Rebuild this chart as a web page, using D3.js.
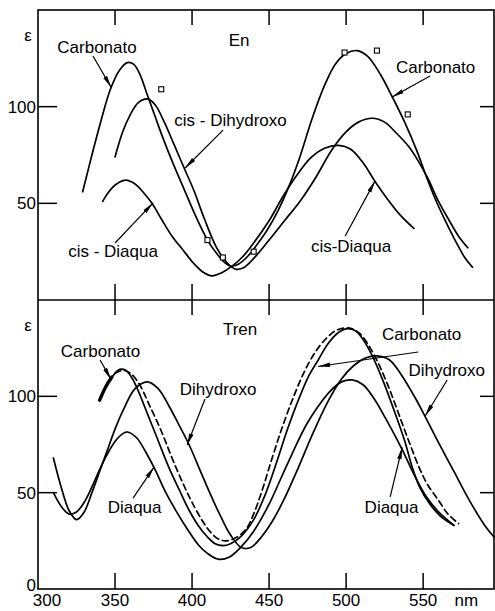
<!DOCTYPE html>
<html><head><meta charset="utf-8">
<script src="https://cdn.jsdelivr.net/npm/d3@7"></script>
<style>
body{margin:0;background:#fff}
text{font-family:"Liberation Sans",Arial,sans-serif;font-size:17px;fill:#000}
</style>
</head><body>
<svg id="c" width="495" height="611"></svg>
<script>
// ---------- data (wavelength nm, epsilon) ----------
const xDomain = [300, 596];
const yDomain = [0, 150];
const xTickValues = [350, 400, 450, 500, 550];
const xTickLabels = ["300", "350", "400", "450", "500", "550"];
const yTickValues = [50, 100];

// Upper panel: En complexes
const enCarbonato = [[329,56],[335,75],[341,93],[347,109],[353,119],[358,122.8],[362,122],[366,117],[371,106],[376,95],[381,84],[388,70],[395,57],[402,44],[410,31],[416,24],[421,19.5],[425,17.5],[430,18.5],[436,22.5],[442,28.5],[449,36.5],[456,46.5],[463,59],[470,74],[478,94],[486,111],[493,122],[500,127.5],[507,129],[514,126],[522,117],[530,105],[538,92],[546,77],[552,64],[558,52],[565,40],[572,29],[577,22],[582,17]];
const enDihydroxo = [[350,74],[355,87],[360,96],[365,102],[371,104],[376,101],[382,92],[388,81],[395,68],[401,57],[408,42],[416,27],[423,19],[428,16],[433,16.5],[440,21.5],[450,31],[460,41],[470,51],[480,63],[491,78],[500,87],[508,92],[517,94],[525,92],[533,86],[540,80],[546,73],[553,63],[560,51],[567,41],[573,33],[579,27]];
const enDiaqua = [[342,51],[346,56],[351,60],[357,62],[363,60],[368,56],[374,50],[380,42],[387,33],[394,26],[401,19],[407,14.5],[413,12.5],[419,14],[426,17.5],[433,22.5],[440,29.5],[450,41],[459,53.5],[468,64.5],[477,73.5],[486,78.5],[495,80],[503,78],[511,71],[519,61],[527,52],[535,44],[544,37]];
const enSquares = [[380,109],[410,31],[420,22],[440,25],[499,128],[520,129],[540,96]];

// Lower panel: Tren complexes
const trCarbonato = [[340,98],[344,105],[348,110],[353,114],[357,113.5],[361,109.5],[365,103],[371,91],[377,79],[385,63],[392,51],[398,41],[404,33],[410,27],[415,23.5],[420,22.5],[425,23.5],[432,27.5],[440,36],[448,50],[455,66],[462,83],[469,98],[476,111],[482,119],[488,127],[494,132.5],[500,135],[506,134],[511,129.5],[517,121],[524,108],[531,93],[538,77],[543,63],[548,52.5],[554,44.5],[561,38],[570,33]];
const trCarbonatoDashed = [[350,112],[355,113.5],[360,112],[366,106],[372,96],[380,82],[387,68],[394,55],[400,45],[407,35],[412,29.5],[417,26],[422,25],[428,26.5],[435,31],[440,39],[445,50],[452,68],[459,85],[466,100],[473,113],[480,123],[487,130],[493,134],[499,135.5],[504,135],[509,132.5],[515,126],[521,117],[528,104],[535,89],[542,74],[548,62],[553,54],[560,46],[566,39],[573,34]];
const trDihydroxo = [[310,68],[315,53],[320,41],[325,36],[330,40],[335,50],[340,61],[345,72],[350,83],[356,94],[363,104],[371,107.5],[378,104],[385,95],[391,86],[398,75],[405,62],[412,49],[419,37],[425,28],[432,21.5],[438,21.5],[445,27],[452,35],[460,47],[469,63],[478,80],[488,97],[497,109],[505,116],[513,120],[520,121],[528,119],[536,111],[545,99],[551,90],[560,76],[570,61],[580,46],[590,33],[596,27]];
const trDiaqua = [[310,50],[315,43],[320,39],[325,40],[330,45],[335,53],[340,62],[345,70],[350,76.5],[354,80],[358,81.5],[364,78.5],[370,71],[376,62],[383,50],[390,40],[397,31],[404,23],[410,18.5],[417,15.5],[424,16.5],[432,22],[440,30],[450,44],[458,58],[466,72],[474,85],[482,95],[490,103],[497,107.5],[504,108.5],[511,106],[518,99],[526,88],[536,73],[545,58],[552,48],[560,40],[570,33]];

// labels: [text, nm, eps] ; arrows: [fromNm, fromEps, toNm, toEps]
const enLabels = [["Carbonato",338.3,127.8],["En",430.5,131.4],["cis - Dihydroxo",425,90],["cis - Diaqua",348.7,22.2],["Carbonato",558.1,117.4],["cis-Diaqua",503.2,24.8]];
const enArrows = [[335.7,126.2,347.5,110],[420.1,87.9,395.5,68.3],[350,29.5,374.7,50.2],[554.5,115.9,529.9,105],[499.4,33.1,518.8,61.6]];
const trLabels = [["Tren",431.2,131.8],["Carbonato",340.6,120.4],["Dihydroxo",416.9,100.7],["Diaqua",362.7,39.4],["Carbonato",549,129.2],["Dihydroxo",565.3,110.6],["Diaqua",529.5,39.4]];
const trArrows = [[340.3,118.9,347.4,108.8],[408.4,98.6,396.8,74.7],[361.7,47.2,375.3,63.3],[546.8,123,481.8,115.5],[565.6,108.5,551.3,89.8],[528.6,47.8,536.4,73.5]];

// ---------- drawing ----------
const svg = d3.select("#c");
const x = d3.scaleLinear().domain(xDomain).range([38, 494]);
const yTop = d3.scaleLinear().domain(yDomain).range([300, 10]);
const yBot = d3.scaleLinear().domain(yDomain).range([589, 300]);

svg.append("defs").append("marker")
  .attr("id","ah").attr("viewBox","0 -3 12 6").attr("refX",12).attr("refY",0)
  .attr("markerWidth",12).attr("markerHeight",6).attr("markerUnits","userSpaceOnUse")
  .attr("orient","auto")
  .append("path").attr("d","M0,-2.2L12,0L0,2.2Z").attr("fill","#000");

function panel(y, series, labels, arrows) {
  const g = svg.append("g");
  const line = d3.line().x(d => x(d[0])).y(d => y(d[1])).curve(d3.curveCatmullRom.alpha(0.5));
  series.forEach(s => {
    g.append("path").attr("d", line(s.data)).attr("fill","none").attr("stroke","#000")
      .attr("stroke-width", s.w || 1.7).attr("stroke-dasharray", s.dash || null)
      .attr("stroke-linecap","round");
  });
  const [y0, y1] = [y(yDomain[1]), y(yDomain[0])];
  xTickValues.forEach(v => {
    g.append("line").attr("x1",x(v)).attr("x2",x(v)).attr("y1",y0).attr("y2",y0+15).attr("stroke","#000").attr("stroke-width",1.5);
    g.append("line").attr("x1",x(v)).attr("x2",x(v)).attr("y1",y1).attr("y2",y1-16).attr("stroke","#000").attr("stroke-width",1.5);
  });
  yTickValues.forEach(v => {
    g.append("line").attr("x1",x(xDomain[0])).attr("x2",x(xDomain[0])+19).attr("y1",y(v)).attr("y2",y(v)).attr("stroke","#000").attr("stroke-width",1.5);
    g.append("line").attr("x1",x(xDomain[1])).attr("x2",x(xDomain[1])-14).attr("y1",y(v)).attr("y2",y(v)).attr("stroke","#000").attr("stroke-width",1.5);
    g.append("text").attr("x",x(xDomain[0])-2).attr("y",y(v)+6).attr("text-anchor","end").text(v);
  });
  g.append("text").attr("x",x(xDomain[0])-10).attr("y",y(yDomain[1])+31).attr("text-anchor","middle").text("ε");
  labels.forEach(l => g.append("text").attr("x",x(l[1])).attr("y",y(l[2])).attr("text-anchor","middle").text(l[0]));
  arrows.forEach(a => g.append("line").attr("x1",x(a[0])).attr("y1",y(a[1])).attr("x2",x(a[2])).attr("y2",y(a[3]))
    .attr("stroke","#000").attr("stroke-width",1.2).attr("marker-end","url(#ah)"));
  return g;
}

const gTop = panel(yTop, [
  {data: enCarbonato}, {data: enDihydroxo}, {data: enDiaqua}
], enLabels, enArrows);
gTop.selectAll("rect.sq").data(enSquares).enter().append("rect")
  .attr("x", d => x(d[0]) - 2.5).attr("y", d => yTop(d[1]) - 2.5).attr("width",5).attr("height",5)
  .attr("fill","#fff").attr("stroke","#000").attr("stroke-width",1.1);

panel(yBot, [
  {data: trDiaqua}, {data: trDihydroxo},
  {data: trCarbonatoDashed, dash: "6,4"},
  {data: trCarbonato},
  {data: trCarbonato.filter(d => d[0] <= 348), w: 3.4}
], trLabels, trArrows);

// frame
svg.append("rect").attr("x",x(xDomain[0])).attr("y",yTop(yDomain[1])).attr("width",x(xDomain[1])-x(xDomain[0]))
  .attr("height",yBot(yDomain[0])-yTop(yDomain[1])).attr("fill","none").attr("stroke","#000").attr("stroke-width",1.6);
svg.append("line").attr("x1",x(xDomain[0])).attr("x2",x(xDomain[1])).attr("y1",yTop(0)).attr("y2",yTop(0)).attr("stroke","#000").attr("stroke-width",1.6);

// bottom axis labels
const labelVals = xTickLabels.map(Number);
svg.selectAll("text.xl").data(labelVals).enter().append("text")
  .attr("x", d => x(d) + (d === 300 ? 9 : 0)).attr("y", 606).attr("text-anchor","middle").text((d,i) => xTickLabels[i]);
svg.append("text").attr("x", x(xDomain[0]) - 2).attr("y", yBot(0) + 2).attr("text-anchor","end").text("0");
svg.append("text").attr("x", x(578)).attr("y", 606).attr("text-anchor","middle").text("nm");
</script>
</body></html>
